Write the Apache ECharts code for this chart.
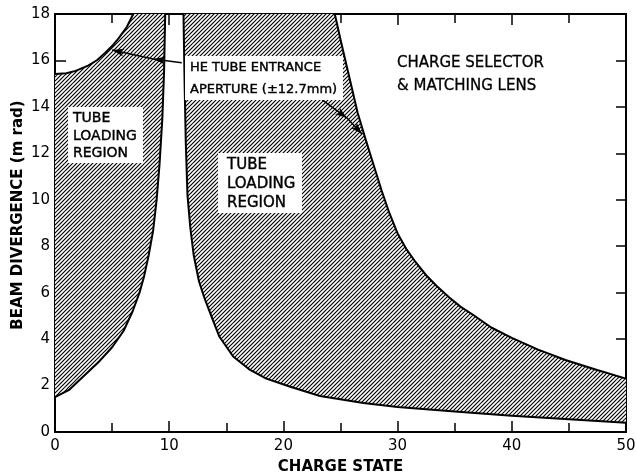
<!DOCTYPE html>
<html>
<head>
<meta charset="utf-8">
<script src="https://cdn.jsdelivr.net/npm/echarts@6/dist/echarts.min.js"></script>
<style>
html,body{margin:0;padding:0;background:#fff;}
#chart{width:636px;height:475px;}
</style>
</head>
<body>
<div id="chart"></div>
<script>
// ---- data (x = charge state, y = beam divergence, m rad) ----
const leftLower = [[0,1.5],[1.2,1.8],[2.5,2.4],[3.8,3.0],[5.0,3.65],[6.0,4.35],[6.8,5.2],[7.4,6.0],[7.8,6.7],[8.2,7.6],[8.6,8.7],[8.9,10.0],[9.15,11.5],[9.4,13.5],[9.55,15.5],[9.65,18]];
const leftUpper = [[0,15.42],[1.0,15.45],[1.8,15.55],[2.9,15.78],[3.7,16.02],[4.4,16.33],[5.0,16.62],[5.6,16.97],[6.3,17.45],[6.85,18]];
const rightLower = [[11.25,18],[11.35,15.0],[11.45,12.5],[11.6,10.2],[11.85,8.8],[12.15,7.6],[12.6,6.5],[13.1,5.75],[13.8,4.85],[14.4,4.1],[15.6,3.25],[17.0,2.7],[18.5,2.3],[20.6,1.95],[23.2,1.55],[27.0,1.25],[30.0,1.08],[35.0,0.88],[40.0,0.7],[45.0,0.55],[50.0,0.4]];
const rightUpper = [[24.5,18],[25.0,16.9],[25.5,15.85],[26.0,14.8],[26.5,13.75],[27.2,12.6],[27.9,11.5],[28.6,10.4],[29.3,9.4],[30.0,8.55],[30.8,7.85],[31.6,7.3],[32.5,6.75],[33.4,6.3],[34.5,5.8],[35.5,5.4],[36.6,5.05],[38.2,4.5],[40.0,4.05],[42.3,3.55],[44.7,3.1],[47.4,2.68],[50.0,2.3]];
// annotation arrows: [start, middle arrowhead, end arrowhead]
const arrowAperture1 = [[11.1,15.9],[8.6,16.06],[5.0,16.45]];
const arrowAperture2 = [[23.4,14.3],[25.57,13.52],[26.88,12.83]];
const xRange = [0, 50];
const yRange = [0, 18];

// ---- hatch pattern ----
const hatch = (function(){
  const c = document.createElement('canvas');
  c.width = 8; c.height = 8;
  const g = c.getContext('2d');
  g.fillStyle = '#fff'; g.fillRect(0,0,8,8);
  g.strokeStyle = '#000'; g.lineWidth = 1.15;
  for (let k = 0; k <= 16; k += 4) {
    g.beginPath();
    g.moveTo(k + 3, -3);
    g.lineTo(-3, k + 3);
    g.stroke();
  }
  return {image: c, repeat: 'repeat'};
})();

const leftPoly = leftLower.concat(leftUpper.slice().reverse());
const rightPoly = rightLower.concat(rightUpper.slice().reverse());

function regionSeries(poly){
  return {
    type: 'custom',
    silent: true,
    z: 1,
    data: [[0,0]],
    renderItem: function(params, api){
      return {
        type: 'polygon',
        shape: {points: poly.map(p => api.coord(p))},
        style: {fill: hatch, stroke: null}
      };
    }
  };
}
function outline(data){
  return {
    type: 'line', data: data, symbol: 'none', smooth: false,
    lineStyle: {color: '#000', width: 2, join: 'round'}, z: 3, silent: true
  };
}
function arrowLines(a){
  return [
    [{coord: a[0], symbol: 'none'}, {coord: a[1], symbol: 'arrow'}],
    [{coord: a[1], symbol: 'none'}, {coord: a[2], symbol: 'arrow'}]
  ];
}

const FONT = 'DejaVu Sans';
const axisCommon = {
  type: 'value',
  axisLine: {show: true, onZero: false, lineStyle: {color: '#000', width: 2}},
  splitLine: {show: false}
};

const chart = echarts.init(document.getElementById('chart'), null, {renderer: 'canvas'});
chart.setOption({
  animation: false,
  backgroundColor: '#fff',
  grid: {left: 55, right: 10, top: 14, bottom: 43, containLabel: false, outerBoundsMode: 'none'},
  xAxis: [
    Object.assign({}, axisCommon, {
      position: 'bottom', min: xRange[0], max: xRange[1], interval: 10,
      axisTick: {show: true, inside: true, length: 11, lineStyle: {color: '#000', width: 1.5}},
      minorTick: {show: true, splitNumber: 2, length: 9, lineStyle: {color: '#000', width: 1.5}},
      axisLabel: {color: '#000', fontSize: 15, fontFamily: FONT, margin: 7},
      name: 'CHARGE STATE', nameLocation: 'middle', nameGap: 28, nameMoveOverlap: false,
      nameTextStyle: {color: '#000', fontSize: 15, fontWeight: 'bold', fontFamily: FONT}
    }),
    Object.assign({}, axisCommon, {
      position: 'top', min: xRange[0], max: xRange[1], interval: 10,
      axisTick: {show: true, inside: true, length: 11, lineStyle: {color: '#000', width: 1.5}},
      minorTick: {show: true, splitNumber: 2, length: 9, lineStyle: {color: '#000', width: 1.5}},
      axisLabel: {show: false}
    })
  ],
  yAxis: [
    Object.assign({}, axisCommon, {
      position: 'left', min: yRange[0], max: yRange[1], interval: 2,
      axisTick: {show: true, inside: true, length: 11, lineStyle: {color: '#000', width: 1.5}},
      axisLabel: {color: '#000', fontSize: 15, fontFamily: FONT, margin: 5},
      name: 'BEAM DIVERGENCE (m rad)', nameLocation: 'middle', nameGap: 29, nameMoveOverlap: false,
      nameTextStyle: {color: '#000', fontSize: 15, fontWeight: 'bold', fontFamily: FONT, padding: [0,0,0,16]}
    }),
    Object.assign({}, axisCommon, {
      position: 'right', min: yRange[0], max: yRange[1], interval: 2,
      axisTick: {show: true, inside: true, length: 10, lineStyle: {color: '#000', width: 1.5}},
      axisLabel: {show: false}
    })
  ],
  series: [
    regionSeries(leftPoly),
    regionSeries(rightPoly),
    outline(leftLower),
    outline(leftUpper),
    outline(rightLower),
    Object.assign(outline(rightUpper), {
      markLine: {
        silent: true, animation: false, symbolSize: [6, 12],
        label: {show: false},
        lineStyle: {color: '#000', width: 1.5, type: 'solid'},
        emphasis: {disabled: true},
        data: arrowLines(arrowAperture1).concat(arrowLines(arrowAperture2))
      }
    })
  ],
  graphic: [
    {type: 'rect', shape: {x: 68, y: 107, width: 75, height: 56}, style: {fill: '#fff'}, z: 10},
    {type: 'text', x: 73, y: 110, z: 11, style: {text: 'TUBE\nLOADING\nREGION', font: '14px "DejaVu Sans"', lineHeight: 17.5, fill: '#000', stroke: '#000', lineWidth: 0.4}},
    {type: 'rect', shape: {x: 218, y: 153, width: 84, height: 60}, style: {fill: '#fff'}, z: 10},
    {type: 'text', x: 227, y: 155.5, z: 11, style: {text: 'TUBE\nLOADING\nREGION', font: '15px "DejaVu Sans"', lineHeight: 19, fill: '#000', stroke: '#000', lineWidth: 0.4}},
    {type: 'rect', shape: {x: 185, y: 56, width: 158, height: 44}, style: {fill: '#fff'}, z: 10},
    {type: 'text', x: 190, y: 57, z: 11, style: {text: 'HE TUBE ENTRANCE\nAPERTURE (±12.7mm)', font: '13px "DejaVu Sans"', lineHeight: 22, fill: '#000', stroke: '#000', lineWidth: 0.4}},
    {type: 'text', x: 397, y: 51.5, z: 11, style: {text: 'CHARGE SELECTOR\n& MATCHING LENS', font: '15px "DejaVu Sans"', lineHeight: 23, fill: '#000', stroke: '#000', lineWidth: 0.3}}
  ]
});
</script>
</body>
</html>
